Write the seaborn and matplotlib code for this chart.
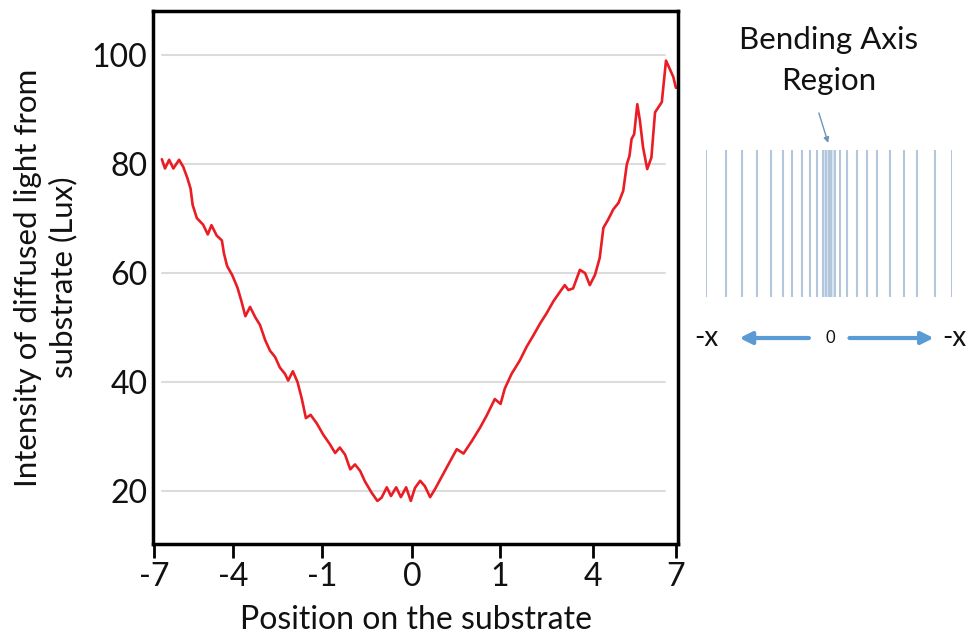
import numpy as np
import pandas as pd
import seaborn as sns
import matplotlib.pyplot as plt

# position along the substrate (0 = left end, 1 = right end) vs diffused light
position = [0.015, 0.021, 0.029, 0.037, 0.048, 0.056, 0.064, 0.070, 0.074, 0.082,
            0.094, 0.103, 0.110, 0.120, 0.130, 0.134, 0.140, 0.150, 0.160, 0.167,
            0.175, 0.184, 0.194, 0.203, 0.213, 0.222, 0.232, 0.241, 0.251, 0.257,
            0.266, 0.275, 0.283, 0.291, 0.300, 0.312, 0.324, 0.337, 0.347, 0.356,
            0.366, 0.376, 0.385, 0.395, 0.404, 0.417, 0.428, 0.436, 0.446, 0.454,
            0.464, 0.473, 0.483, 0.492, 0.500, 0.510, 0.519, 0.529, 0.538, 0.551,
            0.564, 0.580, 0.593, 0.609, 0.625, 0.637, 0.653, 0.664, 0.672, 0.685,
            0.701, 0.714, 0.727, 0.740, 0.752, 0.765, 0.778, 0.787, 0.794, 0.803,
            0.816, 0.826, 0.835, 0.845, 0.854, 0.861, 0.870, 0.880, 0.890, 0.899,
            0.906, 0.911, 0.915, 0.920, 0.926, 0.931, 0.937, 0.945, 0.953, 0.960,
            0.969, 0.973, 0.981, 0.989, 0.995, 1.000]
intensity = [80.9, 79.2, 80.8, 79.2, 80.8, 79.5, 77.4, 75.5, 72.5, 70.1,
             68.9, 67.1, 68.8, 66.9, 66.0, 63.6, 61.3, 59.6, 57.3, 55.0,
             52.1, 53.8, 51.9, 50.5, 47.7, 45.8, 44.6, 42.7, 41.5, 40.3,
             42.0, 40.0, 37.0, 33.4, 34.0, 32.4, 30.4, 28.6, 27.0, 28.0,
             26.7, 24.0, 24.9, 23.7, 21.8, 19.7, 18.2, 18.8, 20.7, 19.1,
             20.7, 18.9, 20.7, 18.2, 20.6, 21.9, 20.9, 18.9, 20.3, 22.6,
             24.9, 27.7, 26.9, 29.2, 31.7, 33.8, 36.9, 36.0, 38.8, 41.5,
             44.0, 46.5, 48.6, 50.8, 52.6, 54.8, 56.6, 57.8, 56.9, 57.2,
             60.6, 60.0, 57.8, 59.7, 62.8, 68.3, 69.8, 71.7, 72.9, 75.1,
             80.0, 81.5, 84.6, 85.5, 91.0, 88.0, 83.1, 79.1, 81.2, 89.5,
             90.8, 91.4, 99.0, 97.3, 96.0, 94.0]

tick_pos = [0.0, 0.151, 0.322, 0.494, 0.663, 0.841, 1.0]
tick_labels = ['-7', '-4', '-1', '0', '1', '4', '7']
y_ticks = [20, 40, 60, 80, 100]

# grating lines of the sketch, relative to the bending axis (-1 .. 1)
strip_lines = [-1.0, -0.833, -0.706, -0.584, -0.467, -0.367, -0.293, -0.218, -0.150,
               -0.091, -0.042, -0.020, 0.0, 0.020, 0.049, 0.093, 0.154, 0.229, 0.313,
               0.397, 0.504, 0.615, 0.717, 0.862, 1.0]

sns.set_theme(style='white')
plt.rcParams['font.family'] = ['Lato', 'DejaVu Sans']
plt.rcParams['text.color'] = '#111111'
plt.rcParams['axes.labelcolor'] = '#111111'

W, H = 972, 634
fig = plt.figure(figsize=(W / 100, H / 100), dpi=100)
ax = fig.add_axes([153 / W, 1 - 544 / H, 525 / W, 533 / H])

df = pd.DataFrame({'position': position, 'intensity': intensity})
sns.lineplot(data=df, x='position', y='intensity', color='#ea1c24', linewidth=1.9,
             sort=False, ax=ax)
ax.lines[0].set_solid_joinstyle('round')

for y in y_ticks:
    ax.axhline(y, xmin=0.017, xmax=0.975, color='#dcdcdc', linewidth=1.5, zorder=0)

ax.set_xlim(-0.002, 1.004)
ax.set_ylim(10.3, 108.1)
ax.set_xticks(tick_pos, tick_labels)
ax.set_yticks(y_ticks)
ax.tick_params(axis='x', length=10, width=2, color='black', labelsize=23, pad=3,
               direction='out', bottom=True, labelcolor='#111111')
ax.tick_params(axis='y', length=0, labelsize=23, pad=4, labelcolor='#111111')
for s in ax.spines.values():
    s.set_color('black')
    s.set_linewidth(2.5)
ax.set_xlabel('Position on the substrate', fontsize=23, labelpad=9)
ax.set_ylabel('Intensity of diffused light from\nsubstrate (Lux)', fontsize=22.5,
              linespacing=1.3)
ax.yaxis.set_label_coords(-0.143, 0.5)

# sketch of the substrate on the right
ax_d = fig.add_axes([705.5 / W, 1 - 297 / H, 246 / W, 147 / H])
ax_d.set_xlim(-1, 1)
ax_d.set_ylim(0, 1)
ax_d.axis('off')
ax_d.axvspan(-0.045, 0.05, color='#c9dcef', alpha=0.7, lw=0)
ax_d.vlines(strip_lines, 0, 1, color='#b3c6dc', linewidth=1.5)
ax_d.text(0, 1.75, 'Bending Axis', ha='center', va='center', fontsize=22.5)
ax_d.text(0, 1.47, 'Region', ha='center', va='center', fontsize=22.5)
ax_d.annotate('', xy=(0.004, 1.03), xytext=(-0.085, 1.27), annotation_clip=False,
              arrowprops=dict(arrowstyle='-|>', color='#7093bd', lw=1, mutation_scale=8))
ax_d.annotate('', xy=(-0.746, -0.279), xytext=(-0.137, -0.279), annotation_clip=False,
              arrowprops=dict(arrowstyle='-|>', color='#5b9bd5', lw=3, mutation_scale=18))
ax_d.annotate('', xy=(0.878, -0.279), xytext=(0.148, -0.279), annotation_clip=False,
              arrowprops=dict(arrowstyle='-|>', color='#5b9bd5', lw=3, mutation_scale=18))
ax_d.text(-0.992, -0.279, '-x', ha='center', va='center', fontsize=20)
ax_d.text(0.012, -0.279, '0', ha='center', va='center', fontsize=12)
ax_d.text(1.02, -0.279, '-x', ha='center', va='center', fontsize=20)

fig.savefig('out.png', dpi=100)
